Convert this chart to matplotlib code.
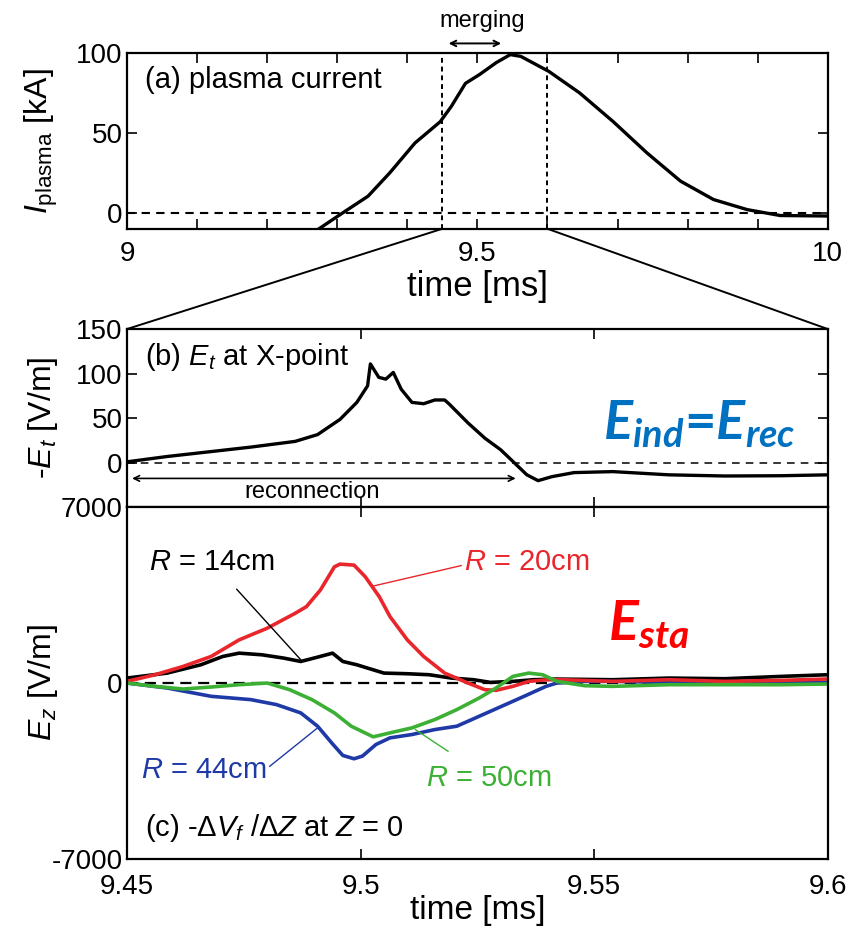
import matplotlib
matplotlib.use("Agg")
import matplotlib.pyplot as plt
from matplotlib.patches import ConnectionPatch

plt.rcParams['font.family'] = ['Liberation Sans', 'DejaVu Sans']
plt.rcParams['axes.unicode_minus'] = False
plt.rcParams['mathtext.fontset'] = 'custom'
plt.rcParams['mathtext.rm'] = 'Liberation Sans'
plt.rcParams['mathtext.it'] = 'Liberation Sans:italic'
plt.rcParams['mathtext.bf'] = 'Liberation Sans:bold'
plt.rcParams['mathtext.bfit'] = 'Lato:italic:bold'

# (a) plasma current [kA] vs time [ms]
ip_t = [9.274, 9.308, 9.344, 9.375, 9.411, 9.447, 9.463, 9.483, 9.503, 9.527,
        9.547, 9.562, 9.602, 9.646, 9.694, 9.742, 9.79, 9.837, 9.885, 9.932, 10.0]
ip_v = [-10, 0, 10.4, 25, 43.7, 57, 66.7, 81, 86.5, 94,
        99, 97.9, 88.5, 75, 57, 37.5, 19.8, 8.3, 2, -1.7, -2]

# (b) -E_t at X-point [V/m]
et_t = [9.4505, 9.4586, 9.468, 9.4765, 9.486, 9.4908, 9.4956, 9.4992, 9.5015, 9.5021,
        9.5039, 9.5054, 9.507, 9.5087, 9.511, 9.5135, 9.5159, 9.518, 9.519, 9.523,
        9.5266, 9.530, 9.533, 9.5356, 9.538, 9.541, 9.5457, 9.554, 9.566, 9.578, 9.590, 9.6]
et_v = [1.9, 7.5, 13, 18, 24.4, 32, 49, 68, 86.5, 111,
        96, 94, 101.5, 82.7, 68, 66.5, 70.7, 70.7, 66, 45,
        28, 15, 0, -13, -19.5, -15, -10.5, -9.4, -13, -14.3, -14, -13]

# (c) E_z [V/m] at several radii
r20_t = [9.45, 9.456, 9.462, 9.468, 9.474, 9.480, 9.486, 9.4884, 9.4914, 9.4944,
         9.4956, 9.4986, 9.501, 9.504, 9.5063, 9.51, 9.5135, 9.518, 9.523, 9.5266,
         9.529, 9.5326, 9.536, 9.54, 9.543, 9.554, 9.566, 9.578, 9.590, 9.6]
r20_v = [66, 330, 660, 1057, 1717, 2180, 2774, 3038, 3700, 4623,
         4730, 4690, 4227, 3435, 2642, 1717, 1057, 396, 0, -264,
         -290, -132, 66, 132, 132, 66, 132, 66, 106, 160]

r14_t = [9.45, 9.4586, 9.4658, 9.4705, 9.474, 9.4789, 9.4836, 9.4872, 9.4908, 9.494,
         9.4962, 9.4992, 9.5015, 9.505, 9.51, 9.5147, 9.5194, 9.5242, 9.5278, 9.5326,
         9.537, 9.542, 9.554, 9.566, 9.578, 9.590, 9.6]
r14_v = [198, 396, 726, 1057, 1189, 1123, 990, 858, 1030, 1189,
         858, 726, 594, 396, 370, 330, 198, 132, 26, 66,
         132, 158, 132, 198, 172, 264, 330]

r44_t = [9.45, 9.4586, 9.468, 9.4765, 9.482, 9.4872, 9.4908, 9.4938, 9.4962, 9.4986,
         9.5004, 9.5033, 9.5063, 9.511, 9.5159, 9.5206, 9.5254, 9.5302, 9.535, 9.5397,
         9.542, 9.548, 9.554, 9.566, 9.578, 9.590, 9.6]
r44_v = [0, -198, -528, -660, -858, -1189, -1717, -2378, -2880, -3012,
         -2906, -2444, -2180, -2047, -1850, -1717, -1321, -925, -528, -132,
         0, 66, 66, 26, 26, 0, 26]

r50_t = [9.45, 9.456, 9.462, 9.468, 9.474, 9.480, 9.4848, 9.4896, 9.4944, 9.498,
         9.5027, 9.5063, 9.511, 9.5159, 9.5206, 9.5254, 9.529, 9.5326, 9.536, 9.539,
         9.542, 9.548, 9.554, 9.566, 9.578, 9.590, 9.6]
r50_v = [0, -132, -238, -158, -66, 0, -264, -660, -1189, -1717,
         -2140, -1981, -1783, -1453, -1057, -594, -198, 264, 396, 330,
         66, -106, -132, -66, -66, -66, -40]

FS = 20      # tick labels
LFS = 21     # in-panel labels
AFS = 23     # axis labels

fig = plt.figure(figsize=(8.64, 9.3), dpi=100)
ax1 = fig.add_axes([0.147, 0.754, 0.811, 0.189])
ax2 = fig.add_axes([0.147, 0.4548, 0.811, 0.1914])
ax3 = fig.add_axes([0.147, 0.0763, 0.811, 0.3785])

for ax in (ax1, ax2, ax3):
    ax.tick_params(direction='in', top=True, right=True, length=7, width=1.2,
                   labelsize=FS, pad=3)
    for s in ax.spines.values():
        s.set_linewidth(1.6)

# ---- (a)
ax1.plot(ip_t, ip_v, color='black', lw=2.4)
ax1.axhline(0, color='black', lw=1.5, ls=(0, (4, 3)))
ax1.axvline(9.45, color='black', lw=1.4, ls=(0, (2.5, 2)))
ax1.axvline(9.6, color='black', lw=1.4, ls=(0, (2.5, 2)))
ax1.set_xlim(9, 10)
ax1.set_ylim(-10, 100)
ax1.set_xticks([9 + 0.1 * i for i in range(11)])
ax1.set_xticklabels(['9', '', '', '', '', '9.5', '', '', '', '', '10'])
ax1.tick_params(axis='x', pad=9)
ax1.set_yticks([0, 50, 100])
ax1.set_xlabel('time [ms]', fontsize=AFS + 2, labelpad=2)
ax1.set_ylabel(r'$I_{\rm plasma}$ [kA]', fontsize=AFS)
ax1.yaxis.set_label_coords(-0.095, 0.5)
ax1.text(0.025, 0.8, '(a) plasma current', transform=ax1.transAxes, fontsize=LFS)
ax1.annotate('', xy=(9.455, 106), xytext=(9.538, 106),
             arrowprops=dict(arrowstyle='<->', lw=1.4, color='black'),
             annotation_clip=False)
ax1.text(9.507, 120, 'merging', ha='center', va='center', fontsize=17)

# ---- (b)
ax2.plot(et_t, et_v, color='black', lw=2.4)
ax2.axhline(0, color='black', lw=1.1, ls=(0, (5, 4)))
ax2.set_xlim(9.45, 9.6)
ax2.set_ylim(-49, 150)
ax2.set_xticks([9.5, 9.55])
ax2.set_xticklabels([])
ax2.set_yticks([0, 50, 100, 150])
ax2.set_ylabel(r'-$E_t$ [V/m]', fontsize=AFS)
ax2.yaxis.set_label_coords(-0.095, 0.5)
ax2.text(0.025, 0.8, r'(b) $E_t$ at X-point', transform=ax2.transAxes, fontsize=LFS)
ax2.annotate('', xy=(9.4505, -17), xytext=(9.5338, -17),
             arrowprops=dict(arrowstyle='<->', lw=1.2, color='black'))
ax2.text(9.4896, -32, 'reconnection', ha='center', va='center', fontsize=17)
ax2.text(9.5519, 26, r'$\mathbfit{E_{ind}}$=$\mathbfit{E_{rec}}$', color='#0070C0',
         fontsize=39, ha='left', va='baseline', family='Lato', weight='bold')

# ---- (c)
ax3.axhline(0, color='black', lw=1.6, ls=(0, (5, 3)))
ax3.plot(r14_t, r14_v, color='black', lw=2.6)
ax3.plot(r44_t, r44_v, color='#1f3aa6', lw=2.6)
ax3.plot(r20_t, r20_v, color='#e8262b', lw=2.6)
ax3.plot(r50_t, r50_v, color='#3cb034', lw=2.6)
ax3.set_xlim(9.45, 9.6)
ax3.set_ylim(-7000, 7000)
ax3.set_xticks([9.45, 9.5, 9.55, 9.6])
ax3.set_xticklabels(['9.45', '9.5', '9.55', '9.6'])
ax3.tick_params(axis='x', pad=11)
ax3.set_yticks([-7000, 0, 7000])
ax3.set_xlabel('time [ms]', fontsize=AFS + 1, labelpad=-4)
ax3.set_ylabel(r'$E_z$ [V/m]', fontsize=AFS)
ax3.yaxis.set_label_coords(-0.095, 0.5)
ax3.text(0.025, 0.065, r'(c) -Δ$V_f$ /Δ$Z$ at $Z$ = 0', transform=ax3.transAxes,
         fontsize=LFS)

ax3.annotate(r'$R$ = 14cm', xy=(9.4872, 925), xytext=(9.4682, 4810),
             ha='center', va='center', fontsize=LFS, color='black',
             arrowprops=dict(arrowstyle='-', lw=1.0, color='black', shrinkA=10, shrinkB=0))
ax3.annotate(r'$R$ = 20cm', xy=(9.5027, 3857), xytext=(9.5356, 4810),
             ha='center', va='center', fontsize=LFS, color='#e8262b',
             arrowprops=dict(arrowstyle='-', lw=1.0, color='#e8262b', shrinkA=0, shrinkB=0,
                             relpos=(0.0, 0.4)))
ax3.annotate(r'$R$ = 44cm', xy=(9.4908, -1783), xytext=(9.4665, -3460),
             ha='center', va='center', fontsize=LFS, color='#1f3aa6',
             arrowprops=dict(arrowstyle='-', lw=1.0, color='#1f3aa6', shrinkA=0, shrinkB=0,
                             relpos=(1.0, 0.55)))
ax3.annotate(r'$R$ = 50cm', xy=(9.5117, -1849), xytext=(9.5274, -3780),
             ha='center', va='center', fontsize=LFS, color='#3cb034',
             arrowprops=dict(arrowstyle='-', lw=1.0, color='#3cb034', shrinkA=13, shrinkB=0))
ax3.text(9.553, 1710, r'$\mathbfit{E_{sta}}$', color='#ff0000', fontsize=40,
         ha='left', va='baseline')

# zoom lines from (a) to (b)
for xa, xb in ((9.45, 9.45), (9.6, 9.6)):
    con = ConnectionPatch(xyA=(xa, -10), coordsA=ax1.transData,
                          xyB=(xb, 150), coordsB=ax2.transData,
                          color='black', lw=1.4)
    fig.add_artist(con)

fig.savefig('out.png', dpi=100)
